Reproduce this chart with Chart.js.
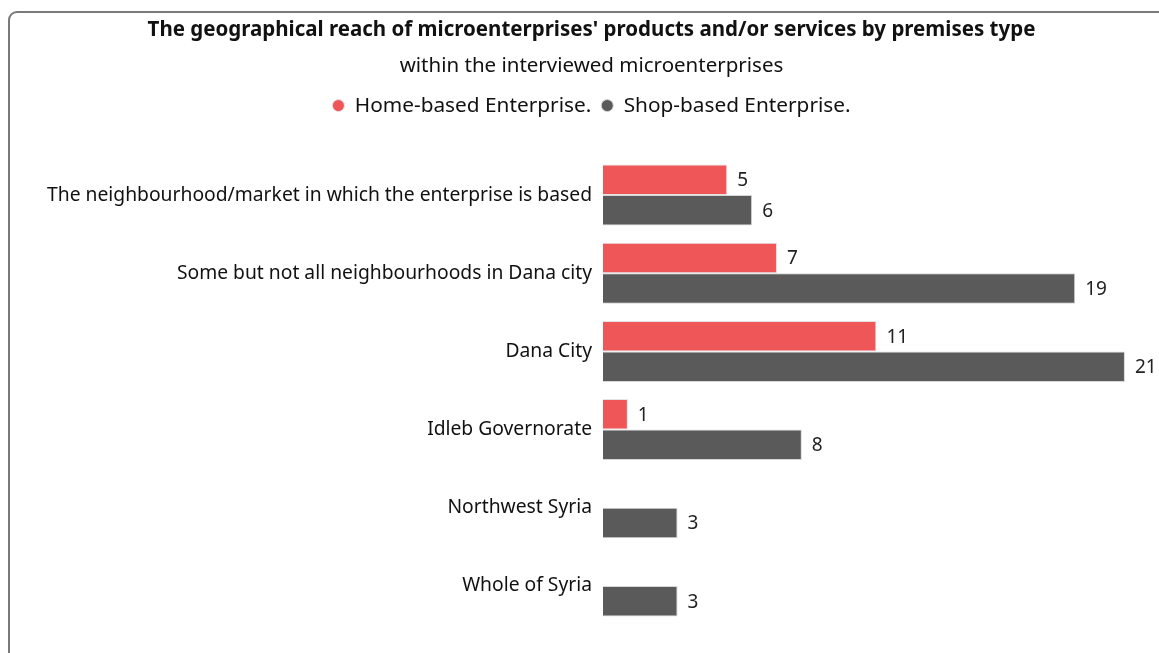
<!DOCTYPE html>
<html>
<head>
<meta charset="utf-8">
<script src="https://cdn.jsdelivr.net/npm/chart.js"></script>
<style>
  html, body { margin: 0; padding: 0; background: #fff; overflow: hidden; }
  .frame {
    position: absolute; left: 8px; top: 11px; width: 1200px; height: 700px;
    border: 2px solid #7a7a7a; border-radius: 9px; box-sizing: border-box;
  }
  .wrap { position: absolute; left: 0; top: 0; width: 1159px; height: 653px; }
</style>
</head>
<body>
<div class="frame"></div>
<div class="wrap"><canvas id="reach"></canvas></div>
<script>
const categories = [
  "The neighbourhood/market in which the enterprise is based",
  "Some but not all neighbourhoods in Dana city",
  "Dana City",
  "Idleb Governorate",
  "Northwest Syria",
  "Whole of Syria"
];
const homeBased = [5, 7, 11, 1, null, null];
const shopBased = [6, 19, 21, 8, 3, 3];
const seriesNames = ["Home-based Enterprise.", "Shop-based Enterprise."];

const FONT = "'Noto Sans', sans-serif";

// value labels at the end of each bar
const barValues = {
  id: "barValues",
  afterDatasetsDraw(chart) {
    const ctx = chart.ctx;
    ctx.save();
    ctx.font = "19px " + FONT;
    ctx.fillStyle = "#222";
    ctx.textAlign = "left";
    ctx.textBaseline = "middle";
    chart.data.datasets.forEach(function (ds, i) {
      chart.getDatasetMeta(i).data.forEach(function (bar, j) {
        const v = ds.data[j];
        if (v === null || v === undefined) return;
        ctx.fillText(String(v), bar.x + 10, bar.y + 1);
      });
    });
    ctx.restore();
  }
};

// extra room between the legend and the bars
const legendGap = {
  id: "legendGap",
  beforeInit(chart) {
    const fit = chart.legend.fit;
    chart.legend.fit = function () {
      fit.call(this);
      this.height += 30;
    };
  }
};

new Chart(document.getElementById("reach").getContext("2d"), {
  type: "bar",
  data: {
    labels: categories,
    datasets: [{
      label: seriesNames[0],
      data: homeBased,
      backgroundColor: "#ef5658",
      borderColor: "#e3e3e3",
      borderWidth: 1,
      categoryPercentage: 0.78,
      barPercentage: 1
    }, {
      label: seriesNames[1],
      data: shopBased,
      backgroundColor: "#5a5a5b",
      borderColor: "#d6d6d6",
      borderWidth: 1,
      categoryPercentage: 0.78,
      barPercentage: 1
    }]
  },
  options: {
    indexAxis: "y",
    responsive: true,
    maintainAspectRatio: false,
    animation: false,
    layout: { padding: { top: 0, right: 0, bottom: 28, left: 24 } },
    plugins: {
      title: {
        display: true,
        text: "The geographical reach of microenterprises' products and/or services by premises type",
        color: "#111",
        font: { family: FONT, size: 20.5, weight: "bold" },
        padding: { top: 18, bottom: 11 }
      },
      subtitle: {
        display: true,
        text: "within the interviewed microenterprises",
        color: "#111",
        font: { family: FONT, size: 20.5 },
        padding: { top: 0, bottom: 7 }
      },
      legend: {
        position: "top",
        labels: {
          usePointStyle: true,
          pointStyle: "circle",
          pointStyleWidth: 12,
          boxWidth: 12,
          boxHeight: 8.5,
          padding: 10,
          color: "#111",
          font: { family: FONT, size: 20.8 }
        }
      },
      tooltip: { enabled: false }
    },
    scales: {
      x: {
        display: false,
        min: 0,
        max: 22.37
      },
      y: {
        grid: { display: false },
        border: { display: false },
        ticks: {
          color: "#111",
          font: { family: FONT, size: 19.3 },
          padding: 3
        },
        afterFit: function (scale) { scale.width = 579; }
      }
    }
  },
  plugins: [barValues, legendGap]
});
</script>
</body>
</html>
